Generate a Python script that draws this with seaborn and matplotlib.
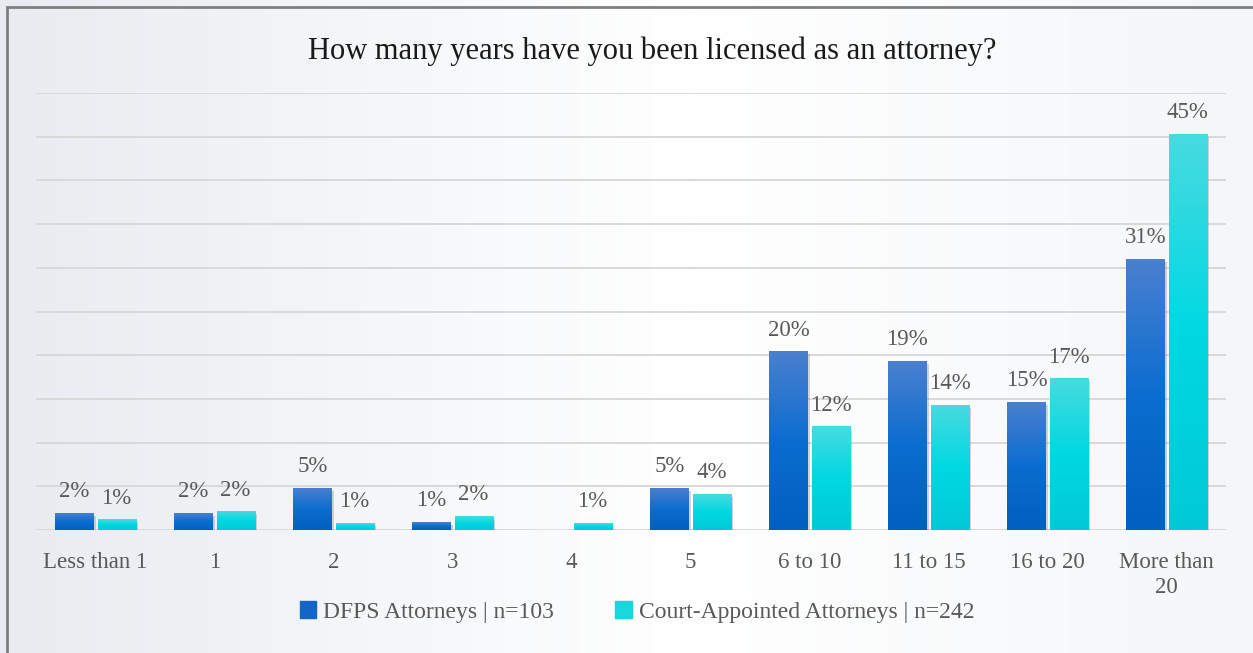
import numpy as np
import pandas as pd
import seaborn as sns
import matplotlib.pyplot as plt
from matplotlib.colors import LinearSegmentedColormap
from matplotlib.patches import Rectangle
import matplotlib.patheffects as pe

categories = ["Less than 1", "1", "2", "3", "4", "5", "6 to 10", "11 to 15", "16 to 20", "More than\n20"]
dfps = [1.9, 1.9, 4.8, 0.9, 0.0, 4.8, 20.4, 19.3, 14.6, 31.0]
court = [1.2, 2.1, 0.8, 1.6, 0.8, 4.1, 11.8, 14.3, 17.3, 45.3]
series = ["DFPS Attorneys | n=103", "Court-Appointed Attorneys | n=242"]
title = "How many years have you been licensed as an attorney?"

df = pd.DataFrame({
    "years": categories * 2,
    "pct": dfps + court,
    "group": [series[0]] * len(categories) + [series[1]] * len(categories),
})

sns.set_style("white")
plt.rcParams['font.family'] = ['Liberation Serif', 'DejaVu Serif']
txt = "#595959"

fig = plt.figure(figsize=(12.53, 6.53), dpi=100)

# background wash + border
bg = fig.add_axes([0, 0, 1, 1], zorder=-5)
g = np.interp(np.linspace(0, 1, 400), [0, 0.55, 1], [0.15, 1, 0.6]).reshape(1, -1)
bg.imshow(g, cmap=LinearSegmentedColormap.from_list("bg", ["#e8ecf0", "#ffffff"]),
          aspect="auto", extent=[0, 1, 0, 1])
bg.set_axis_off()
fig.patches.append(Rectangle((7 / 1253, -0.1), 1.2, 1.1 - 7 / 653, transform=fig.transFigure,
                             fill=False, edgecolor="#7f7f7f", lw=2, zorder=10))

ax = fig.add_axes([36 / 1253, 123 / 653, 1190 / 1253, 437 / 653])
ax.set_facecolor("none")
sns.barplot(data=df, x="years", y="pct", hue="group", palette=["#1565c8", "#1ad6dd"],
            width=0.71, gap=0.1, legend=False, ax=ax, zorder=2.5)

cmaps = [LinearSegmentedColormap.from_list("a", ["#0060bf", "#0b6dcf", "#4a80d0"]),
         LinearSegmentedColormap.from_list("b", ["#00c9d5", "#00d8e2", "#48dbe0"])]
grad = np.linspace(0, 1, 256).reshape(-1, 1)
for cont, cmap in zip(ax.containers, cmaps):
    for bar in cont:
        x0, w, h = bar.get_x(), bar.get_width(), bar.get_height()
        if h <= 0:
            continue
        ax.imshow(grad, cmap=cmap, origin="lower", aspect="auto",
                  extent=[x0, x0 + w, 0, h], zorder=3)
        bar.set_facecolor("none")
        bar.set_edgecolor("none")
        bar.set_path_effects([pe.SimplePatchShadow(offset=(2, -2), shadow_rgbFace="#888888", alpha=0.35)])
        ax.annotate(f"{h:.0f}%", (x0 + w / 2, h), xytext=(0, 11), textcoords="offset pixels",
                    ha="center", va="bottom", fontsize=16.5, color=txt)

ax.set_xlim(-0.5, 9.5)
ax.set_ylim(0, 50)
ax.set_yticks(np.arange(0, 51, 5))
ax.grid(axis="y", color="#d9d9d9", lw=1.4, zorder=0)
ax.set_axisbelow(True)
ax.set_yticklabels([])
ax.tick_params(axis="y", length=0)
ax.tick_params(axis="x", length=0, labelsize=16.5, labelcolor=txt, pad=16)
for lab in ax.get_xticklabels():
    lab.set_linespacing(1.25)
ax.set_xlabel("")
ax.set_ylabel("")
for s in ax.spines.values():
    s.set_visible(False)

fig.text(652 / 1253, 1 - 51 / 653, title, ha="center", va="center", fontsize=22, color="#1a1a1a")

handles = [Rectangle((0, 0), 1, 1, color="#1565c8"), Rectangle((0, 0), 1, 1, color="#1ad6dd")]
fig.legend(handles, series, loc="center", bbox_to_anchor=(637 / 1253, 1 - 612 / 653), ncol=2,
           frameon=False, fontsize=17, labelcolor=txt, handlelength=0.7, handleheight=0.7,
           handletextpad=0.3, columnspacing=2.6)

fig.savefig("out.png", dpi=100)
